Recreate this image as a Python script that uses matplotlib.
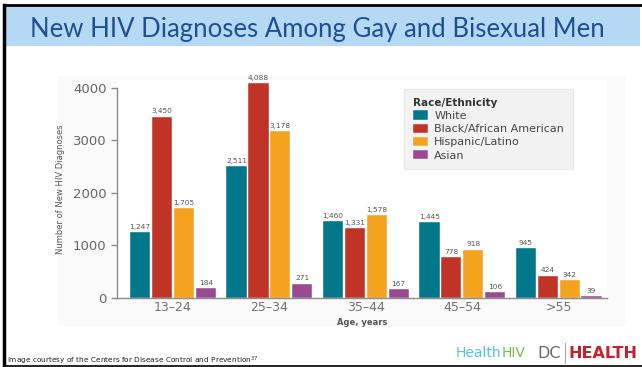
import numpy as np
import matplotlib.pyplot as plt
from matplotlib.patches import Rectangle
from matplotlib.lines import Line2D

ages = ['13\u201324', '25\u201334', '35\u201344', '45\u201354', '>55']
groups = ['White', 'Black/African American', 'Hispanic/Latino', 'Asian']
white = [1247, 2511, 1460, 1445, 945]
black = [3450, 4088, 1331, 778, 424]
hispanic = [1705, 3178, 1578, 918, 342]
asian = [184, 271, 167, 106, 39]
colors = ['#00778a', '#bf3427', '#f5a21f', '#9a4a90']

fig = plt.figure(figsize=(6.42, 3.67), dpi=100)
fig.patch.set_facecolor('white')

# slide frame and title band
fig.add_artist(Rectangle((5/642, 1 - 46/367), 635/642, 40/367, transform=fig.transFigure,
                         facecolor='#b5d9f2', edgecolor='none', zorder=-2))
fig.add_artist(Line2D([4/642, 1], [1 - 5/367] * 2, transform=fig.transFigure, color='black', lw=2))
fig.add_artist(Line2D([4/642] * 2, [1/367, 1 - 5/367], transform=fig.transFigure, color='black', lw=2.5))
fig.add_artist(Line2D([4/642, 1], [1.5/367] * 2, transform=fig.transFigure, color='black', lw=1.2))
fig.add_artist(Rectangle((58/642, 1 - 326/367), 568/642, 250/367, transform=fig.transFigure,
                         facecolor='#fafafa', edgecolor='none', zorder=-2))
fig.text(30/642, 1 - 30/367, 'New HIV Diagnoses Among Gay and Bisexual Men', fontsize=18.5,
         family='Lato', color='#1f4f93', va='center', ha='left')

ax = fig.add_axes([117/642, 69/367, 490/642, 218/367])
ax.set_facecolor('white')

x = np.arange(len(ages))
step = 0.227
width = 0.21
for i, (vals, name) in enumerate(zip([white, black, hispanic, asian], groups)):
    pos = x + (i - 1.5) * step
    ax.bar(pos, vals, width, color=colors[i], edgecolor='white', linewidth=0.3, label=name)
    for p, v in zip(pos, vals):
        ax.text(p, v + 45, f'{v:,}', ha='center', va='bottom', fontsize=5.3, color='#555555')

ax.set_xlim(-0.58, 4.5)
ax.set_ylim(0, 4150)
ax.set_yticks([0, 1000, 2000, 3000, 4000])
ax.set_xticks(x)
ax.set_xticklabels(ages)
ax.spines['top'].set_visible(False)
ax.spines['right'].set_visible(False)
ax.spines['left'].set_bounds(0, 4000)
for s in ['left', 'bottom']:
    ax.spines[s].set_color('#8a8a8a')
    ax.spines[s].set_linewidth(1.0)
ax.tick_params(axis='y', colors='#8a8a8a', labelcolor='#666666', labelsize=9.5, length=4, width=1)
ax.tick_params(axis='x', length=0, labelcolor='#707070', labelsize=9, pad=2)
ax.set_xlabel('Age, years', fontsize=6, fontweight='bold', color='#555555', labelpad=3)
ax.set_ylabel('Number of New HIV Diagnoses', fontsize=6, color='#555555', labelpad=6)

leg = ax.legend(title='Race/Ethnicity', loc='upper left', bbox_to_anchor=(0.575, 0.985),
                fontsize=8, title_fontsize=7.5, frameon=True, fancybox=False,
                handlelength=1.3, handleheight=0.9, handletextpad=0.6, labelspacing=0.25,
                borderpad=0.8, alignment='left')
leg.get_frame().set_facecolor('#efefef')
leg.get_frame().set_edgecolor('#e6e6e6')
leg.get_title().set_fontweight('bold')
leg.get_title().set_color('#333333')
for t in leg.get_texts():
    t.set_color('#444444')

fig.text(7/642, 1 - 361/367, 'Image courtesy of the Centers for Disease Control and Prevention$^{37}$',
         fontsize=5.3, color='#222222', va='center', ha='left')
health = fig.text(456/642, 1 - 353/367, 'Health', fontsize=10, color='#4ec3ea', va='center', ha='left')
ax.annotate('HIV', xy=(1, 0.5), xycoords=health, fontsize=10, color='#72bf44',
            va='center', ha='left', annotation_clip=False)
fig.text(537/642, 1 - 353/367, 'DC', fontsize=11.5, color='#666666', va='center', ha='left')
fig.add_artist(Line2D([565/642] * 2, [1 - 363/367, 1 - 343/367], transform=fig.transFigure,
                      color='#aaaaaa', lw=0.8))
fig.text(568/642, 1 - 353/367, 'HEALTH', fontsize=11.5, fontweight='bold', color='#c8202f',
         va='center', ha='left')

fig.savefig('out.png', dpi=100)
